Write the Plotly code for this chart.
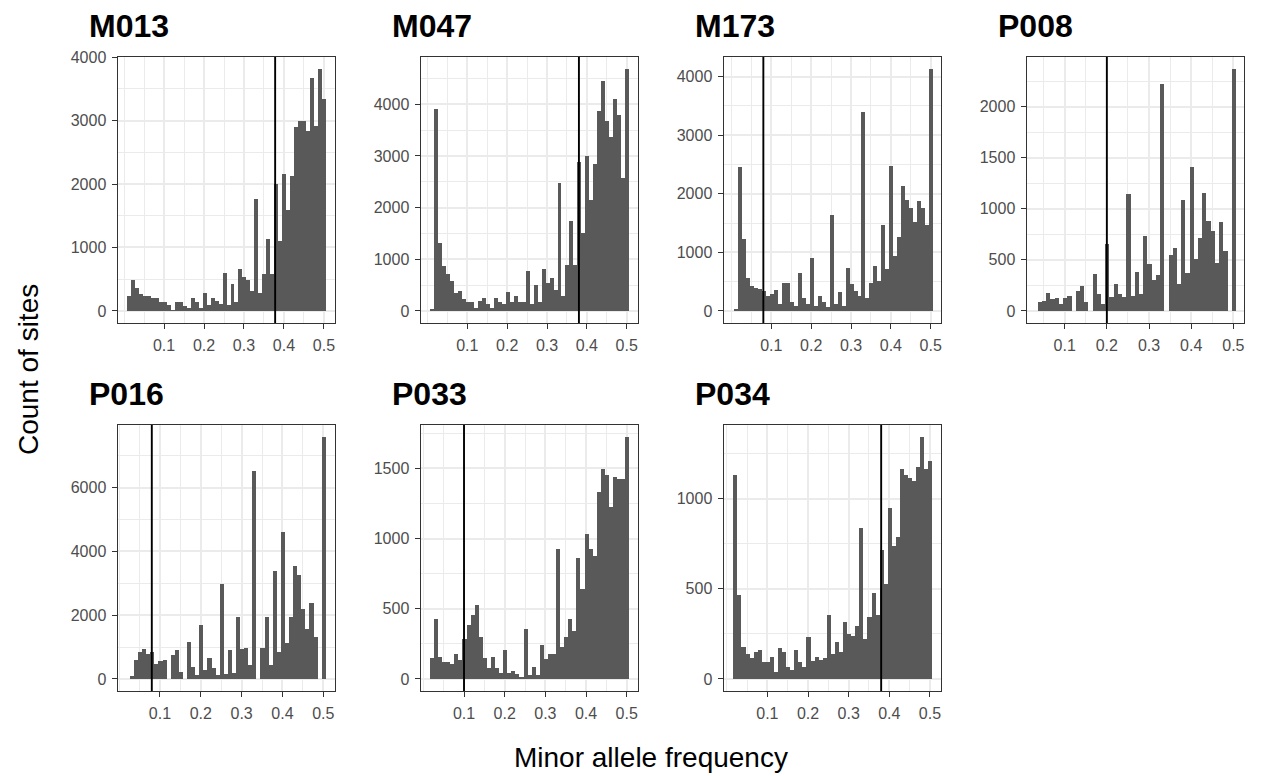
import plotly.graph_objects as go

# Minor allele frequency bins (bin centres, width 0.01)
maf_bins = [0.01, 0.02, 0.03, 0.04, 0.05, 0.06, 0.07, 0.08, 0.09, 0.10,
            0.11, 0.12, 0.13, 0.14, 0.15, 0.16, 0.17, 0.18, 0.19, 0.20,
            0.21, 0.22, 0.23, 0.24, 0.25, 0.26, 0.27, 0.28, 0.29, 0.30,
            0.31, 0.32, 0.33, 0.34, 0.35, 0.36, 0.37, 0.38, 0.39, 0.40,
            0.41, 0.42, 0.43, 0.44, 0.45, 0.46, 0.47, 0.48, 0.49, 0.50]

samples = ["M013", "M047", "M173", "P008", "P016", "P033", "P034"]

# Count of sites per MAF bin, one list per sample
counts_M013 = [229, 490, 365, 265, 240, 230, 210, 200, 145, 135,
               100, 10, 145, 145, 80, 40, 210, 145, 40, 290,
               100, 210, 155, 115, 605, 100, 420, 135, 665, 530,
               490, 320, 1760, 290, 575, 1135, 575, 2000, 1095, 2155,
               1595, 2130, 2895, 2990, 2990, 2830, 3675, 2920, 3812, 3335]
counts_M047 = [20, 3910, 1320, 860, 710, 585, 345, 390, 230, 180,
               165, 50, 190, 245, 130, 50, 245, 165, 130, 360,
               165, 295, 165, 165, 780, 130, 510, 165, 820, 540,
               630, 400, 2475, 295, 885, 1745, 885, 2890, 1510, 3005,
               2155, 2845, 3870, 4450, 3680, 3370, 4110, 3800, 2570, 4680]
counts_M173 = [25, 2450, 1235, 565, 430, 395, 375, 345, 260, 285,
               355, 115, 485, 485, 160, 90, 655, 215, 115, 900,
               80, 260, 160, 70, 1640, 115, 315, 90, 725, 455,
               345, 250, 3390, 215, 485, 770, 515, 1470, 720, 2475,
               930, 1265, 2140, 1900, 1760, 1525, 1880, 1765, 1460, 4130]
counts_P008 = [0, 0, 0, 85, 100, 180, 120, 130, 70, 130,
               145, 0, 200, 240, 90, 0, 360, 165, 70, 655,
               135, 265, 165, 135, 1145, 150, 378, 165, 730, 460,
               305, 355, 2225, 0, 550, 615, 260, 1083, 370, 1408,
               507, 710, 1158, 880, 785, 470, 870, 590, 0, 2370]
counts_P016 = [0, 0, 93, 590, 845, 950, 795, 845, 455, 557,
               590, 0, 742, 897, 227, 0, 1165, 381, 124, 1690,
               278, 660, 330, 124, 2980, 144, 897, 175, 1950, 935,
               955, 435, 6510, 0, 955, 1950, 435, 3385, 830, 4610,
               1130, 1930, 3540, 3260, 2200, 1580, 2380, 1320, 0, 7580]
counts_P033 = [0, 146, 430, 158, 122, 118, 104, 177, 134, 287,
               381, 452, 527, 299, 146, 75, 158, 75, 45, 205,
               45, 56, 33, 16, 353, 28, 87, 28, 245, 139,
               174, 177, 923, 228, 299, 428, 339, 864, 640, 1029,
               923, 876, 1335, 1498, 1453, 1224, 1441, 1422, 1422, 1723]
counts_P034 = [0, 1130, 463, 178, 136, 114, 147, 158, 92, 92,
               121, 37, 169, 151, 68, 50, 160, 96, 64, 233,
               101, 123, 103, 114, 357, 136, 206, 151, 316, 250,
               239, 294, 840, 224, 344, 478, 357, 717, 528, 949,
               735, 785, 1165, 1132, 1116, 1101, 1176, 1342, 1165, 1208]

counts = {
    "M013": counts_M013, "M047": counts_M047, "M173": counts_M173,
    "P008": counts_P008, "P016": counts_P016, "P033": counts_P033,
    "P034": counts_P034,
}

# MAF cutoff per sample (vertical reference line)
cutoffs = {"M013": 0.378, "M047": 0.38, "M173": 0.08, "P008": 0.2,
           "P016": 0.08, "P033": 0.1, "P034": 0.38}

x_tick_vals = [0.1, 0.2, 0.3, 0.4, 0.5]
x_tick_text = ["0.1", "0.2", "0.3", "0.4", "0.5"]
y_tick_steps = {"M013": 1000, "M047": 1000, "M173": 1000, "P008": 500,
                "P016": 2000, "P033": 500, "P034": 500}

# ---------------------------------------------------------------- layout
W, H = 1261, 776
col_left = [117.5, 420.5, 723.5, 1026.5]
row_top = [57, 425]
panel_w, panel_h = 217, 266
x_ranges = {"M013": [-0.0165, 0.5265], "M047": [-0.0175, 0.527],
            "M173": [-0.020, 0.5245], "P008": [0.0095, 0.524],
            "P016": [-0.004, 0.5275], "P033": [-0.007, 0.5265],
            "P034": [-0.008, 0.526]}

FONT = "Liberation Sans, Arial, Helvetica, sans-serif"
BAR = "#595959"
GRID = "#EBEBEB"
BORDER = "#333333"
TICKTXT = "#4D4D4D"

fig = go.Figure()
annotations = []
shapes = []

for i, s in enumerate(samples):
    r, c = divmod(i, 4)
    n = i + 1
    xa = "x" if n == 1 else f"x{n}"
    ya = "y" if n == 1 else f"y{n}"
    xkey = "xaxis" if n == 1 else f"xaxis{n}"
    ykey = "yaxis" if n == 1 else f"yaxis{n}"

    fig.add_trace(go.Bar(
        x=maf_bins, y=counts[s], width=0.01,
        marker=dict(color=BAR, line=dict(width=0)),
        xaxis=xa, yaxis=ya, showlegend=False,
    ))

    x0 = col_left[c] / W
    x1 = (col_left[c] + panel_w) / W
    y1 = 1 - row_top[r] / H
    y0 = 1 - (row_top[r] + panel_h) / H

    xr = x_ranges[s]
    minor_x = [v for v in [0.0, 0.05, 0.15, 0.25, 0.35, 0.45, 0.55]
               if xr[0] <= v <= xr[1]]
    fig.update_layout({
        xkey: dict(
            domain=[x0, x1], anchor=ya, range=xr, automargin=False,
            tickmode="array", tickvals=x_tick_vals, ticktext=x_tick_text,
            ticks="outside", ticklen=5, tickwidth=1, tickcolor=BORDER,
            ticklabelstandoff=3,
            tickfont=dict(family=FONT, size=16, color=TICKTXT),
            showgrid=True, gridcolor=GRID, gridwidth=1.6,
            minor=dict(tickmode="array", tickvals=minor_x, showgrid=True,
                       gridcolor=GRID, gridwidth=0.9, ticks="", ticklen=0),
            showline=True, mirror=True, linecolor=BORDER, linewidth=1,
            zeroline=False, fixedrange=True,
        ),
    })

    ymax = max(counts[s])
    step = y_tick_steps[s]
    fig.update_layout({
        ykey: dict(
            domain=[y0, y1], anchor=xa, automargin=False,
            range=[-0.05 * ymax, 1.05 * ymax],
            tickmode="linear", tick0=0, dtick=step,
            ticks="outside", ticklen=5, tickwidth=1, tickcolor=BORDER,
            ticklabelstandoff=2,
            tickfont=dict(family=FONT, size=16, color=TICKTXT),
            showgrid=True, gridcolor=GRID, gridwidth=1.6,
            minor=dict(tickmode="linear", tick0=step / 2, dtick=step,
                       showgrid=True, gridcolor=GRID, gridwidth=0.9,
                       ticks="", ticklen=0),
            showline=True, mirror=True, linecolor=BORDER, linewidth=1,
            zeroline=False, fixedrange=True,
        ),
    })

    shapes.append(dict(
        type="line", xref=xa, yref=f"{ya} domain",
        x0=cutoffs[s], x1=cutoffs[s], y0=0, y1=1,
        line=dict(color="black", width=1.9), layer="above",
    ))

    annotations.append(dict(
        text=s, xref="paper", yref="paper",
        x=(col_left[c] - 31) / W, y=1 - (row_top[r] - 31) / H,
        xanchor="left", yanchor="middle", showarrow=False,
        font=dict(family=FONT, size=32, color="black", weight="bold"),
    ))

annotations.append(dict(
    text="Count of sites", xref="paper", yref="paper",
    x=28 / W, y=1 - 370 / H, textangle=-90,
    xanchor="center", yanchor="middle", showarrow=False,
    font=dict(family=FONT, size=28, color="black"),
))
annotations.append(dict(
    text="Minor allele frequency", xref="paper", yref="paper",
    x=651 / W, y=1 - 757 / H,
    xanchor="center", yanchor="middle", showarrow=False,
    font=dict(family=FONT, size=28, color="black"),
))

fig.update_layout(
    width=W, height=H,
    margin=dict(l=0, r=0, t=0, b=0, pad=0, autoexpand=False),
    paper_bgcolor="white", plot_bgcolor="white",
    bargap=0, barmode="overlay",
    annotations=annotations, shapes=shapes,
    font=dict(family=FONT),
)

fig.write_html("out.html")
